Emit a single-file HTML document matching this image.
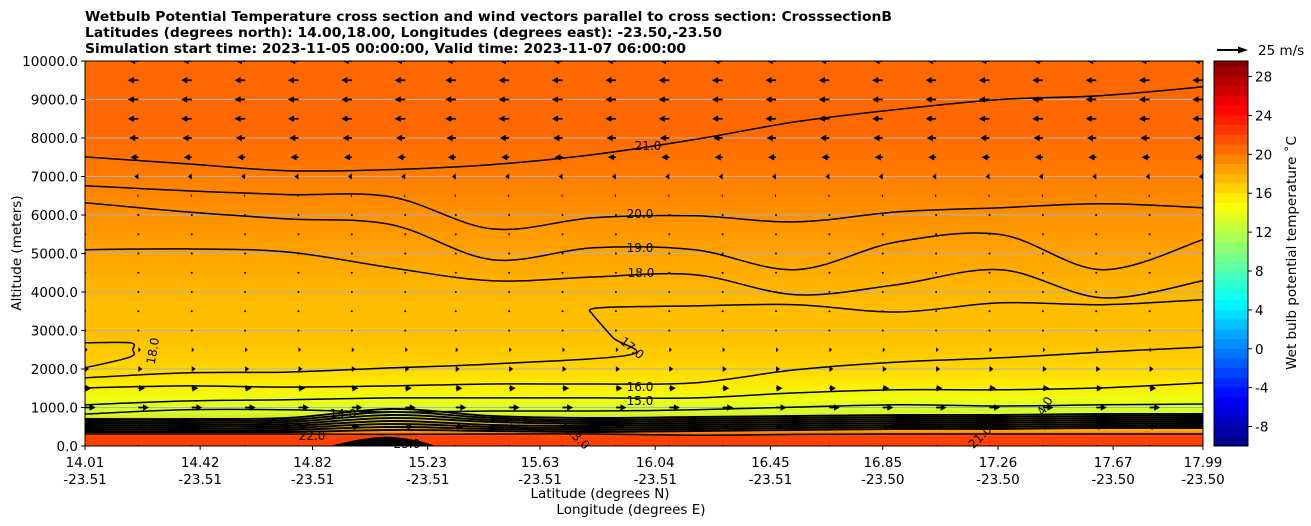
<!DOCTYPE html>
<html><head><meta charset="utf-8">
<style>
html,body{margin:0;padding:0;background:#fff;}
svg{display:block;font-family:"DejaVu Sans","Liberation Sans",sans-serif;}
</style></head>
<body>
<svg id="chart" width="1311" height="526" viewBox="0 0 1311 526" xmlns="http://www.w3.org/2000/svg">
<defs>
<linearGradient id="bgGrad" gradientUnits="userSpaceOnUse" x1="0" y1="446" x2="0" y2="61"></linearGradient>
<linearGradient id="cbGrad" gradientUnits="userSpaceOnUse" x1="0" y1="446" x2="0" y2="61"></linearGradient>
<clipPath id="plotClip"><rect x="85" y="61" width="1118" height="385"/></clipPath>
</defs>
<g font-weight="bold" font-size="13.5">
<text x="85" y="21" textLength="807" lengthAdjust="spacingAndGlyphs">Wetbulb Potential Temperature cross section and wind vectors parallel to cross section: CrosssectionB</text>
<text x="85" y="37" textLength="637" lengthAdjust="spacingAndGlyphs">Latitudes (degrees north): 14.00,18.00, Longitudes (degrees east): -23.50,-23.50</text>
<text x="85" y="53" textLength="601" lengthAdjust="spacingAndGlyphs">Simulation start time: 2023-11-05 00:00:00, Valid time: 2023-11-07 06:00:00</text>
</g>
<rect x="85" y="61" width="1118" height="385" fill="url(#bgGrad)"/>
<g id="grid"></g>
<g id="contours" clip-path="url(#plotClip)"></g>
<g id="vectors" clip-path="url(#plotClip)"></g>
<g id="clabels" font-size="12"></g>
<rect x="85" y="61" width="1118" height="385" fill="none" stroke="#000" stroke-width="1"/>
<g id="yaxis" font-size="13.5"></g>
<g id="xaxis" font-size="13.5"></g>
<text font-size="13.5" transform="translate(21,253) rotate(-90)" text-anchor="middle">Altitude (meters)</text>
<text font-size="13.5" x="600" y="498" text-anchor="middle">Latitude (degrees N)</text>
<text font-size="13.5" x="631" y="514" text-anchor="middle">Longitude (degrees E)</text>
<rect x="1214" y="61" width="34" height="385" fill="url(#cbGrad)" stroke="#000" stroke-width="1"/>
<g id="cbticks" font-size="13.5"></g>
<text font-size="13.5" transform="translate(1296,253) rotate(-90)" text-anchor="middle">Wet bulb potential temperature ˚C</text>
<g>
<line x1="1217" y1="50" x2="1240" y2="50" stroke="#000" stroke-width="2"/>
<polygon points="1248,50 1238,46.5 1238,53.5" fill="#000"/>
<text x="1258" y="55" font-size="13.5">25 m/s</text>
</g>
</svg>
<script>
// ---- data ----
const xTickLats = [14.01,14.42,14.82,15.23,15.63,16.04,16.45,16.85,17.26,17.67,17.99];
const xTickLons = ["-23.51","-23.51","-23.51","-23.51","-23.51","-23.51","-23.51","-23.50","-23.50","-23.50","-23.50"];
const yTicks = [0,1000,2000,3000,4000,5000,6000,7000,8000,9000,10000];
const cbTicks = [-8,-4,0,4,8,12,16,20,24,28];
const profileAlts = [0,260,400,880,1200,1600,2100,2750,3800,5100,6400,7400,8200,10000];
const profileTemps = [22.3,22.1,18,13,14,15.5,16.5,17.1,17.4,18.4,19.3,20.1,20.6,20.6];
const gridLats = [14.01,14.37,14.73,15.10,15.46,15.82,16.18,16.54,16.90,17.27,17.63,17.99];
const c21 = [7510,7330,7150,7180,7310,7570,7960,8420,8740,9000,9100,9330];
const c20 = [6760,6630,6530,6470,5640,5930,5980,5820,6080,6190,6290,6190];
const c19 = [6320,6080,5900,5750,4840,5150,5100,4580,5300,5490,4580,5360];
const c18 = [5100,5120,5040,4630,4290,4390,4450,3930,4190,4580,3850,4290];
const c17aLats = [15.815,15.84,16.18,16.54,16.90,17.27,17.63,17.99];
const c17aAlts = [3430,3590,3640,3670,3480,3720,3670,3800];
const c17bLats = [15.815,15.89,15.95,15.46,15.10,14.73,14.37,14.01];
const c17bAlts = [3430,2810,2370,2130,2030,1920,1900,1770];
const c18loopLats = [14.01,14.17,14.18,14.17,14.01];
const c18loopAlts = [2680,2680,2500,2310,2030];
const c16 = [1510,1560,1530,1560,1610,1610,1640,1980,2180,2290,2440,2570];
const c15 = [1070,1170,1200,1250,1250,1250,1250,1380,1460,1460,1510,1640];
const c14 = [830,940,940,880,910,910,940,1010,1070,1040,1070,1090];
const band1 = [702,702,728,962,780,728,754,780,806,806,832,832];
const band2 = [650,650,676,884,728,676,702,728,754,754,780,780];
const band3 = [598,598,624,806,676,624,650,676,702,702,728,728];
const band4 = [546,546,572,728,624,572,598,624,650,650,676,676];
const band5 = [494,494,520,650,546,520,546,572,598,598,624,624];
const band6 = [442,442,468,572,494,468,494,520,546,546,572,572];
const band7 = [390,390,416,494,442,416,442,468,494,494,520,520];
const band8 = [364,364,364,416,390,364,390,416,442,442,468,468];
const c22 = [312,312,312,300,312,312,280,300,312,312,312,312];
const blobLats = [14.88,14.98,15.08,15.18,15.26];
const blobAlts = [0,160,240,160,0];
const windAlts = [0,500,1000,1500,2000,2500,3000,3500,4000,4500,5000,5500,6000,6500,7000,7500,8000,8500,9000,9500,10000];
const windU = [0,6,8,5,3,2,0.3,0.2,0.2,0.2,0.2,0.3,-0.4,-1,-3,-6,-7,-8,-8,-8,-7];
const windLats = [14.01,14.20,14.39,14.58,14.77,14.96,15.15,15.33,15.52,15.71,15.90,16.09,16.28,16.47,16.66,16.85,17.04,17.23,17.42,17.61,17.80,17.99];
const vmin = -10, vmax = 29.6;

// ---- scales ----
const X0=85, X1=1203, Y0=446, Y1=61;
function xOf(lat){ return X0 + (lat-14.01)/(17.99-14.01)*(X1-X0); }
function yOf(alt){ return Y0 - alt/10000*(Y0-Y1); }
function yOfT(v){ return Y0 - (v-vmin)/(vmax-vmin)*(Y0-Y1); }
function jet(v){
  const t=Math.max(0,Math.min(1,(v-vmin)/(vmax-vmin)));
  const c=x=>Math.round(255*Math.max(0,Math.min(1,x)));
  return `rgb(${c(1.5-Math.abs(4*t-3))},${c(1.5-Math.abs(4*t-2))},${c(1.5-Math.abs(4*t-1))})`;
}
const NS='http://www.w3.org/2000/svg';
function mk(tag,attrs,parent){ const e=document.createElementNS(NS,tag); for(const k in attrs) e.setAttribute(k,attrs[k]); parent.appendChild(e); return e; }

const bg=document.getElementById('bgGrad');
profileAlts.forEach((a,i)=>{
  const off=(Y0-yOf(a))/(Y0-Y1);
  mk('stop',{offset:off.toFixed(4),'stop-color':jet(profileTemps[i])},bg);
});
const cb=document.getElementById('cbGrad');
for(let v=-10; v<30; v+=1){
  const o1=(v-vmin)/(vmax-vmin), o2=Math.min(1,(v+1-vmin)/(vmax-vmin));
  mk('stop',{offset:o1.toFixed(4),'stop-color':jet(v+0.5)},cb);
  mk('stop',{offset:o2.toFixed(4),'stop-color':jet(v+0.5)},cb);
}
const grid=document.getElementById('grid'), ya=document.getElementById('yaxis');
yTicks.forEach(a=>{
  const y=yOf(a);
  if(a>0&&a<10000){ const l=mk('line',{x1:X0,x2:X1,y1:y,y2:y,stroke:'#b0b0b0','stroke-width':1},grid);
      }
  mk('line',{x1:X0-4,x2:X0,y1:y,y2:y,stroke:'#000'},ya);
  const t=mk('text',{x:X0-7,y:y+5,'text-anchor':'end'},ya); t.textContent=a.toFixed(1);
   
});
const xa=document.getElementById('xaxis');
xTickLats.forEach((lat,i)=>{
  const x=xOf(lat);
  mk('line',{x1:x,x2:x,y1:Y0,y2:Y0+4,stroke:'#000'},xa);
  const t=mk('text',{x:x,y:467,'text-anchor':'middle'},xa); t.textContent=lat.toFixed(2);
   
  const t2=mk('text',{x:x,y:484,'text-anchor':'middle'},xa); t2.textContent=xTickLons[i];
   
});
const cbt=document.getElementById('cbticks');
cbTicks.forEach(v=>{
  const y=yOfT(v);
  mk('line',{x1:1248,x2:1252,y1:y,y2:y,stroke:'#000'},cbt);
  const t=mk('text',{x:1255,y:y+5},cbt); t.textContent=String(v);
   
});
function smooth(pts){
  let d=`M${pts[0][0].toFixed(1)},${pts[0][1].toFixed(1)}`;
  for(let i=0;i<pts.length-1;i++){
    const p0=pts[Math.max(0,i-1)],p1=pts[i],p2=pts[i+1],p3=pts[Math.min(pts.length-1,i+2)];
    const c1=[p1[0]+(p2[0]-p0[0])/6,p1[1]+(p2[1]-p0[1])/6], c2=[p2[0]-(p3[0]-p1[0])/6,p2[1]-(p3[1]-p1[1])/6];
    d+=`C${c1[0].toFixed(1)},${c1[1].toFixed(1)} ${c2[0].toFixed(1)},${c2[1].toFixed(1)} ${p2[0].toFixed(1)},${p2[1].toFixed(1)}`;
  }
  return d;
}
const cg=document.getElementById('contours');
function contour(lats,alts,name,w){
  const pts=lats.map((l,i)=>[xOf(l),yOf(alts[i])]);
  const p=mk('path',{d:smooth(pts),fill:'none',stroke:'#000','stroke-width':w||1.5},cg);
   
}
contour(gridLats,c21,'contour-21');
contour(gridLats,c20,'contour-20');
contour(gridLats,c19,'contour-19');
contour(gridLats,c18,'contour-18');
contour(c17aLats,c17aAlts,'contour-17-upper');
contour(c17bLats,c17bAlts,'contour-17-lower');
contour(c18loopLats,c18loopAlts,'contour-18-loop');
contour(gridLats,c16,'contour-16');
contour(gridLats,c15,'contour-15');
contour(gridLats,c14,'contour-14');
[band1,band2,band3,band4,band5,band6,band7,band8].forEach((b,i)=>contour(gridLats,b,'inversion-contour-'+(i+1),1.9));
contour(gridLats,c22,'contour-22');
const blob=mk('path',{d:smooth(blobLats.map((l,i)=>[xOf(l),yOf(blobAlts[i])]))+'Z',fill:'#000'},cg);
 

const cl=document.getElementById('clabels');
[['21.0',648,150,0],['20.0',640,218,0],['19.0',640,252,0],['18.0',641,277,0],['17.0',632,352,40],
 ['16.0',640,391,0],['15.0',640,405,0],['14.0',343,418,0],['18.0',153,355,-80],['23.0',407,448,0],
 ['22.0',312,440,0],['23.0',578,442,45],['21.0',980,441,-45],['4.0',1045,410,-60]].forEach(a=>{
  const t=mk('text',{x:a[1],y:a[2],'text-anchor':'middle',transform:`rotate(${a[3]},${a[1]},${a[2]-4})`},cl);
  t.textContent=a[0];
   
});

const vg=document.getElementById('vectors');
const pxPerMs = 30/25;
windAlts.forEach((alt,r)=>{
  const u=windU[r], y=yOf(alt);
  windLats.forEach(lat=>{
    const x=xOf(lat), L=u*pxPerMs*1.1, s=Math.sign(L)||1, a=Math.abs(L);
    let el;
    if(a<1){ el=mk('circle',{cx:x,cy:y,r:1,fill:'#000'},vg); }
    else {
      const hl=Math.min(a,6), hw=Math.min(3.3, 1.2+a*0.45), sw=0.9;
      const tip=x+L, hb=tip-s*hl;
      el=mk('polygon',{points:`${x},${y-sw} ${hb},${y-sw} ${hb},${y-hw} ${tip},${y} ${hb},${y+hw} ${hb},${y+sw} ${x},${y+sw}`,fill:'#000'},vg);
    }
    
    
  });
});
</script>
</body></html>
